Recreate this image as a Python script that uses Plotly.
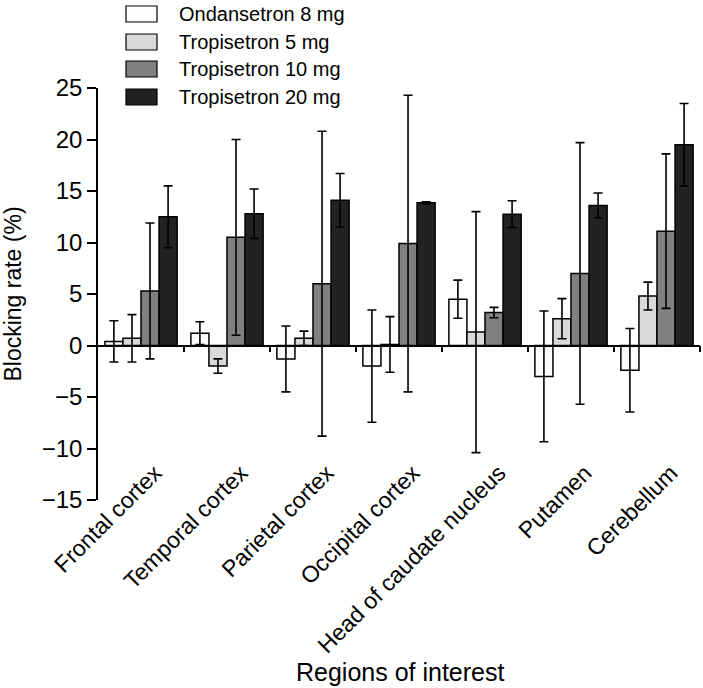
import plotly.graph_objects as go

regions = ["Frontal cortex", "Temporal cortex", "Parietal cortex", "Occipital cortex",
           "Head of caudate nucleus", "Putamen", "Cerebellum"]
series_names = ["Ondansetron 8 mg", "Tropisetron 5 mg", "Tropisetron 10 mg", "Tropisetron 20 mg"]
ond8 = [0.4, 1.2, -1.3, -2.0, 4.5, -3.0, -2.4]
ond8_err = [2.0, 1.1, 3.2, 5.45, 1.85, 6.35, 4.05]
tro5 = [0.7, -2.0, 0.7, 0.1, 1.3, 2.6, 4.8]
tro5_err = [2.3, 0.7, 0.7, 2.7, 11.7, 1.95, 1.35]
tro10 = [5.3, 10.5, 6.0, 9.9, 3.2, 7.0, 11.1]
tro10_err = [6.6, 9.5, 14.8, 14.4, 0.5, 12.7, 7.5]
tro20 = [12.5, 12.8, 14.1, 13.85, 12.75, 13.6, 19.5]
tro20_err = [3.0, 2.4, 2.6, 0.1, 1.3, 1.2, 4.0]
colors = ["#fdfdfd", "#d9d9d9", "#808080", "#222222"]
y_ticks = [-15, -10, -5, 0, 5, 10, 15, 20, 25]

values = [ond8, tro5, tro10, tro20]
errors = [ond8_err, tro5_err, tro10_err, tro20_err]

FONT = "Liberation Sans, Arial, sans-serif"
W, H = 703, 688
L, R, T, B = 98, 3, 88, 188

fig = go.Figure()
for name, v, e, c in zip(series_names, values, errors, colors):
    fig.add_trace(go.Bar(
        x=regions, y=v, name=name,
        marker=dict(color=c, line=dict(color="black", width=1.5)),
        error_y=dict(type="data", array=e, visible=True, color="black",
                     thickness=1.6, width=4.5),
        showlegend=False,
    ))

# invisible trace to anchor the zero-line axis
fig.add_trace(go.Scatter(x=[], y=[], xaxis="x2", showlegend=False, hoverinfo="skip"))

ymin, ymax = y_ticks[0], y_ticks[-1]
fig.update_layout(
    width=W, height=H,
    margin=dict(l=L, r=R, t=T, b=B, autoexpand=False),
    paper_bgcolor="white", plot_bgcolor="white",
    font=dict(family=FONT, size=20, color="black"),
    barmode="group", bargap=0.16, bargroupgap=0,
    xaxis=dict(
        type="category", range=[-0.5, len(regions) - 0.5], automargin=False,
        showline=False, showgrid=False, zeroline=False, ticks="",
        tickangle=-45, tickfont=dict(size=23),
        ticklabelstandoff=-46, ticklabelshift=14,
    ),
    xaxis2=dict(
        overlaying="x", anchor="free", position=(0 - ymin) / (ymax - ymin),
        range=[-0.5, len(regions) - 0.5], showgrid=False, zeroline=False,
        showline=True, linecolor="black", linewidth=1.5, automargin=False,
        tickvals=[i + 0.5 for i in range(len(regions))],
        ticks="outside", ticklen=6, tickwidth=1.5, tickcolor="black",
        showticklabels=False,
    ),
    yaxis=dict(
        range=[ymin, ymax], tickvals=y_ticks, automargin=False,
        showline=True, linecolor="black", linewidth=1.5,
        ticks="outside", ticklen=9, tickwidth=1.5, tickcolor="black",
        showgrid=False, zeroline=False, tickfont=dict(size=24),
        title=dict(text="Blocking rate (%)", font=dict(size=23), standoff=16),
    ),
)

pw, ph = W - L - R, H - T - B
def px_x(px):
    return (px - L) / pw
def px_y(py):
    return (H - B - py) / ph

# x-axis title placed like the reference
fig.add_annotation(xref="paper", yref="paper", x=px_x(400), y=px_y(672),
                   text="Regions of interest", showarrow=False,
                   xanchor="center", yanchor="middle", font=dict(size=25, family=FONT))

# manual legend (wide swatches like the reference)
row_y = [14, 42, 69, 97]
for name, c, yc in zip(series_names, colors, row_y):
    fig.add_shape(type="rect", xref="paper", yref="paper",
                  x0=px_x(126), x1=px_x(157), y0=px_y(yc + 8), y1=px_y(yc - 8),
                  fillcolor=c, line=dict(color="black", width=1.2))
    fig.add_annotation(xref="paper", yref="paper", x=px_x(177), y=px_y(yc),
                       text=name, showarrow=False, xanchor="left", yanchor="middle",
                       font=dict(size=20, family=FONT))

fig.write_html("out.html", config={"displayModeBar": False},
               post_script="document.body.style.margin='0';document.body.style.padding='0';")
